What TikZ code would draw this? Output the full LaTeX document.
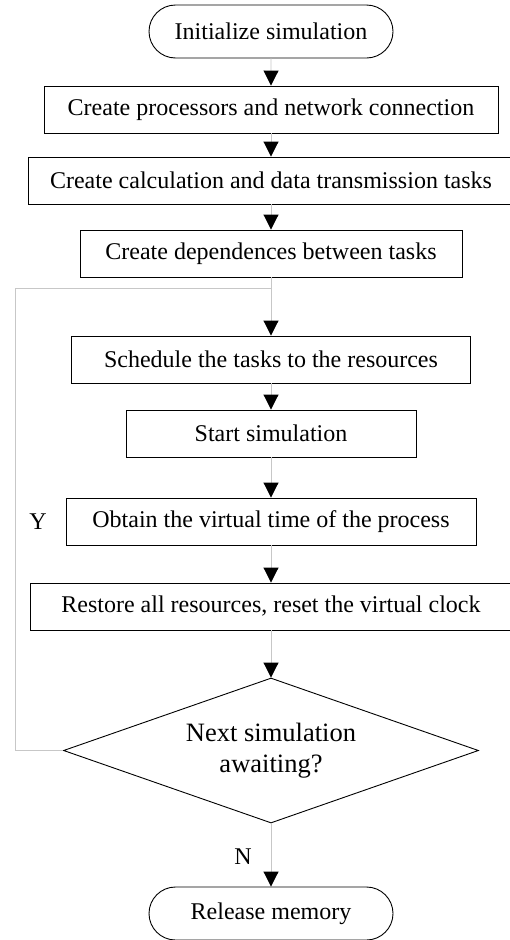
\documentclass[tikz,border=0pt]{standalone}
\usepackage{fontspec}
\setmainfont{Liberation Serif}
\usetikzlibrary{arrows.meta,shapes.geometric,shapes.misc}
\begin{document}
\begin{tikzpicture}[x=1pt,y=-1pt,
  basefont/.style={font=\fontsize{24}{28}\selectfont},
  box/.style={basefont,draw=black,line width=0.9pt,rectangle,minimum height=47pt,inner sep=0pt},
  term/.style={basefont,draw=black,line width=0.9pt,rounded rectangle,minimum height=53pt,minimum width=244pt,inner sep=0pt},
  decision/.style={draw=black,line width=0.9pt,diamond,aspect=2.86,minimum width=415pt,minimum height=145pt,inner sep=0pt,align=center,font=\fontsize{26.5}{31}\selectfont},
  conn/.style={draw=black!22,line width=0.9pt,-{Triangle[width=15pt,length=15pt,color=black,fill=black]}},
  loopline/.style={draw=black!22,line width=0.9pt},
  lbl/.style={basefont,inner sep=0pt}]
\useasboundingbox (0,0) rectangle (510,940);
\node[term] (t1) at (271,31.5) {Initialize simulation};
\node[box,minimum width=454pt] (b1) at (271,109.5) {Create processors and network connection};
\node[box,minimum width=486pt] (b2) at (271,180.5) {Create calculation and data transmission tasks};
\node[box,minimum width=382pt] (b3) at (271,253.5) {Create dependences between tasks};
\node[box,minimum width=399pt] (b4) at (271,359.5) {Schedule the tasks to the resources};
\node[box,minimum width=290pt] (b5) at (271,433.5) {Start simulation};
\node[box,minimum width=410pt] (b6) at (271,521.5) {Obtain the virtual time of the process};
\node[box,minimum width=482pt] (b7) at (271,606.5) {Restore all resources, reset the virtual clock};
\node[decision] (dia) at (271,750.5) {Next simulation\\awaiting?};
\node[term] (t2) at (271,913.5) {Release memory};
\node[lbl] (ylab) at (38,522) {Y};
\node[lbl] (nlab) at (243,857) {N};
\coordinate (lpA) at (15,750.5);
\coordinate (lpB) at (15,288);
\coordinate (lpC) at (271,288);
\draw[conn] (t1) -- (b1);
\draw[conn] (b1) -- (b2);
\draw[conn] (b2) -- (b3);
\draw[conn] (b3) -- (b4);
\draw[conn] (b4) -- (b5);
\draw[conn] (b5) -- (b6);
\draw[conn] (b6) -- (b7);
\draw[conn] (b7) -- (dia);
\draw[conn] (dia) -- (t2);
\draw[loopline] (dia.west) -- (lpA) -- (lpB) -- (lpC);
\end{tikzpicture}
\end{document}
